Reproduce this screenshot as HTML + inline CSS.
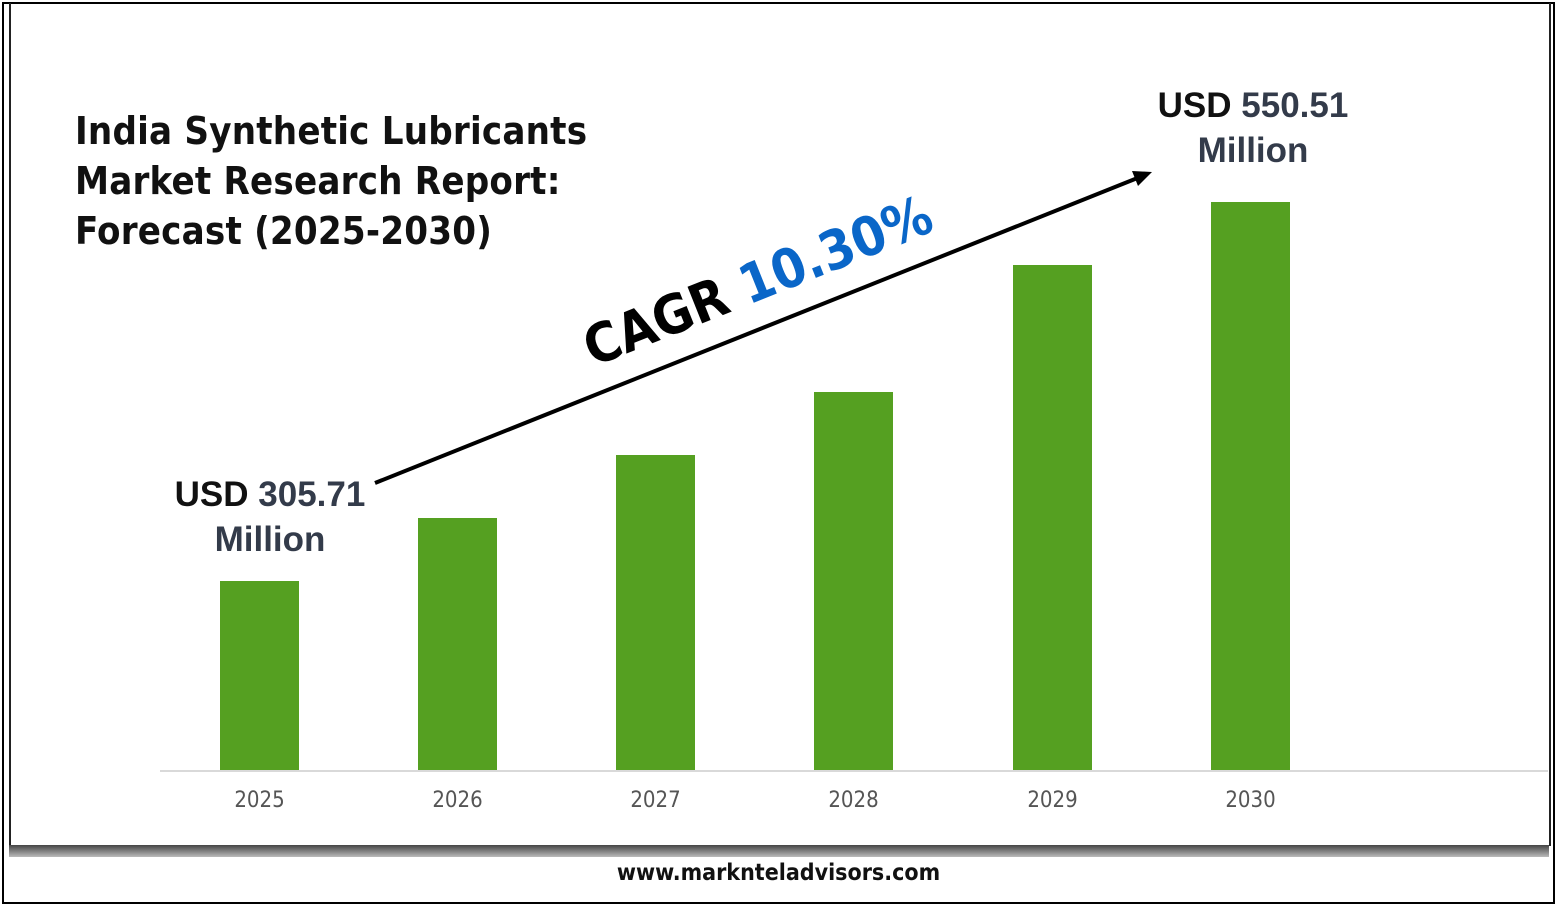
<!DOCTYPE html>
<html><head><style>
body{margin:0;width:1557px;height:906px;background:#fff;position:relative;overflow:hidden;font-family:"Liberation Sans",sans-serif}
.a{position:absolute}
.bar{position:absolute;background:#55a021;width:79px;bottom:136px}
.yr{position:absolute;top:788px;width:79px;text-align:center;font-size:22px;color:#555;font-family:"DejaVu Sans Condensed","Liberation Sans Narrow",sans-serif}
.lab{position:absolute;font-weight:bold;font-size:35px;color:#111;text-align:center;line-height:45px}
.lab span{color:#333b4a}
</style></head><body>
<div class="a" style="left:2px;top:2px;width:1549px;height:898px;border:2px solid #000"></div>
<div class="a" style="left:9px;top:3px;width:1538px;height:843px;border:2px solid #222;border-bottom:none;border-top:none"></div>
<div class="a" style="left:9px;top:845px;width:1540px;height:12px;background:linear-gradient(#444,#bbb)"></div>
<div class="a" style="left:0;top:860px;width:1557px;text-align:center;font-size:23px;font-weight:bold;color:#111;font-family:'DejaVu Sans Condensed',sans-serif">www.marknteladvisors.com</div>
<div class="a" style="left:75px;top:106px;font-size:38px;font-weight:bold;line-height:50px;color:#111;font-family:'DejaVu Sans Condensed',sans-serif;letter-spacing:0.2px">India Synthetic Lubricants<br>Market Research Report:<br>Forecast (2025-2030)</div>
<div class="a" style="left:160px;top:770px;width:1388px;height:2px;background:#d9d9d9"></div>
<div class="bar" style="left:220px;top:581px"></div>
<div class="bar" style="left:418px;top:518px"></div>
<div class="bar" style="left:616px;top:455px"></div>
<div class="bar" style="left:814px;top:392px"></div>
<div class="bar" style="left:1013px;top:265px"></div>
<div class="bar" style="left:1211px;top:202px"></div>
<div class="yr" style="left:220px">2025</div><div class="yr" style="left:418px">2026</div><div class="yr" style="left:616px">2027</div><div class="yr" style="left:814px">2028</div><div class="yr" style="left:1013px">2029</div><div class="yr" style="left:1211px">2030</div>
<div class="lab" style="left:160px;top:472px;width:220px">USD <span>305.71</span><br><span>Million</span></div>
<div class="lab" style="left:1143px;top:83px;width:220px">USD <span>550.51</span><br><span>Million</span></div>
<svg class="a" style="left:0;top:0" width="1557" height="906">
<line x1="375" y1="483" x2="1140" y2="177" stroke="#000" stroke-width="4"/>
<polygon points="1152,172 1132,171 1138,186" fill="#000"/>
<text x="0" y="0" transform="translate(593,367) rotate(-21.8)" font-family="DejaVu Sans Condensed, Liberation Sans, sans-serif" font-weight="bold" font-size="54" fill="#000">CAGR <tspan fill="#0a66c8">10.30%</tspan></text>
</svg>
</body></html>
